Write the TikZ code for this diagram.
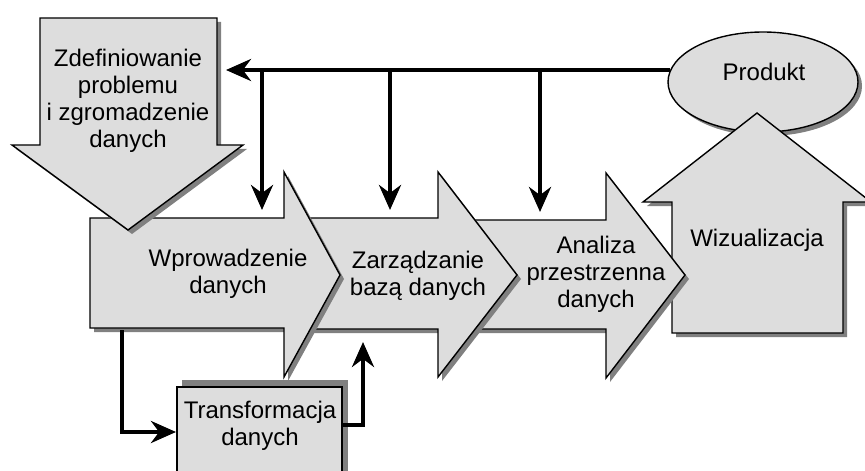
\documentclass[tikz,border=0pt]{standalone}
\usepackage{fontspec}
\setmainfont{Liberation Sans}
\usetikzlibrary{arrows.meta,shapes.geometric}
\definecolor{boxgray}{HTML}{DDDDDD}
\definecolor{shadegray}{HTML}{808080}
\tikzset{>={Stealth[length=12.5pt,width=11pt]},
  every node/.style={font=\fontsize{12}{13.5}\selectfont},
  block/.style={draw=black,fill=boxgray,line width=.7pt},
  shadow/.style={fill=shadegray,shift={(4,4)}},
  flow/.style={->,line width=2pt},
  txt/.style={align=center,inner sep=0pt}}
\begin{document}
\begin{tikzpicture}[x=.5pt,y=-.5pt]
\useasboundingbox (0,0) rectangle (865,470);
% produkt
\node[ellipse,fill=shadegray,minimum width=95pt,minimum height=50pt] at (767,86) {};
\node[ellipse,block,minimum width=95pt,minimum height=50pt] (prod) at (763,82) {};
% wizualizacja
\fill[shadow] (672,333)--(843,333)--(843,202)--(871,202)--(757,113)--(643,202)--(672,202)--cycle;
\draw[block] (672,333)--(843,333)--(843,202)--(871,202)--(757,113)--(643,202)--(672,202)--cycle;
% three steps, back to front
\fill[shadow] (470,220)--(606,220)--(606,173)--(685,275)--(606,378)--(606,329)--(470,329)--cycle;
\draw[block] (470,220)--(606,220)--(606,173)--(685,275)--(606,378)--(606,329)--(470,329)--cycle;
\fill[shadow] (300,218)--(438,218)--(438,172)--(517,275)--(438,377)--(438,329)--(300,329)--cycle;
\draw[block] (300,218)--(438,218)--(438,172)--(517,275)--(438,377)--(438,329)--(300,329)--cycle;
\fill[shadow] (90,218)--(284,218)--(284,172)--(340,275)--(284,377)--(284,328)--(90,328)--cycle;
\draw[block] (90,218)--(284,218)--(284,172)--(340,275)--(284,377)--(284,328)--(90,328)--cycle;
% problem
\fill[shadow] (40,18)--(217,18)--(217,145)--(243,145)--(128,230)--(12,145)--(40,145)--cycle;
\draw[block] (40,18)--(217,18)--(217,145)--(243,145)--(128,230)--(12,145)--(40,145)--cycle;
% transformacja
\fill[shadegray] (182,380) rectangle (348,480);
\draw[block] (177,387) rectangle (342,480);
% labels
\node[txt] (zdef) at (128,101) {Zdefiniowanie\\problemu\\i zgromadzenie\\danych};
\node[txt] (wpr) at (228,274) {Wprowadzenie\\danych};
\node[txt] (zarz) at (418,276) {Zarządzanie\\bazą danych};
\node[txt] (anal) at (596,274) {Analiza\\przestrzenna\\danych};
\node[txt] (wiz) at (757,240) {Wizualizacja};
\node[txt] (prodtxt) at (764,72) {Produkt};
\node[txt] (trans) at (260,426) {Transformacja\\danych};
% feedback from product
\coordinate (p0) at (670,70);
\coordinate (d0) at (226,70);
\coordinate (b1) at (262,70); \coordinate (e1) at (262,210);
\coordinate (b2) at (390,70); \coordinate (e2) at (390,210);
\coordinate (b3) at (540,70); \coordinate (e3) at (540,212);
\draw[flow] (p0) -- (d0);
\draw[flow] (b1) -- (e1);
\draw[flow] (b2) -- (e2);
\draw[flow] (b3) -- (e3);
% detour through transformacja
\coordinate (w0) at (122,330); \coordinate (t0) at (176,432);
\coordinate (t1) at (343,425); \coordinate (z0) at (363,342);
\draw[flow] (w0) |- (t0);
\draw[flow] (t1) -| (z0);
\end{tikzpicture}
\end{document}
